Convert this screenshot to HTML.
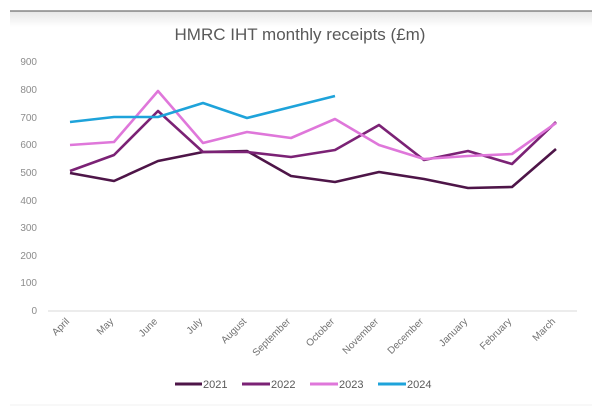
<!DOCTYPE html>
<html><head><meta charset="utf-8"><style>
body{margin:0;background:#fff;width:600px;height:415px;overflow:hidden;font-family:"Liberation Sans",sans-serif}
</style></head><body>
<svg width="600" height="415" xmlns="http://www.w3.org/2000/svg" font-family="Liberation Sans, sans-serif">
<defs><linearGradient id="g" x1="0" y1="0" x2="0" y2="1"><stop offset="0" stop-color="#e6e6e6"/><stop offset="1" stop-color="#fff"/></linearGradient></defs>
<rect x="10" y="11" width="582" height="16" fill="url(#g)"/>
<line x1="10" y1="11" x2="592" y2="11" stroke="#707070" stroke-width="1.2"/>
<line x1="10" y1="405" x2="592" y2="405" stroke="#f0f0f0" stroke-width="1"/>
<text x="300" y="40" text-anchor="middle" font-size="17" fill="#595959">HMRC IHT monthly receipts (£m)</text>
<g font-size="10" fill="#8c8c8c" text-anchor="end">
<text x="37" y="314">0</text><text x="37" y="286">100</text><text x="37" y="259">200</text><text x="37" y="231">300</text><text x="37" y="204">400</text><text x="37" y="176">500</text><text x="37" y="148">600</text><text x="37" y="121">700</text><text x="37" y="93">800</text><text x="37" y="65">900</text>
</g>
<line x1="48" y1="311" x2="577" y2="311" stroke="#d9d9d9" stroke-width="1"/>
<g font-size="10" fill="#707070" text-anchor="end">
<text transform="translate(70,322) rotate(-45)">April</text>
<text transform="translate(114,322) rotate(-45)">May</text>
<text transform="translate(158,322) rotate(-45)">June</text>
<text transform="translate(203,322) rotate(-45)">July</text>
<text transform="translate(247,322) rotate(-45)">August</text>
<text transform="translate(291,322) rotate(-45)">September</text>
<text transform="translate(335,322) rotate(-45)">October</text>
<text transform="translate(379,322) rotate(-45)">November</text>
<text transform="translate(424,322) rotate(-45)">December</text>
<text transform="translate(468,322) rotate(-45)">January</text>
<text transform="translate(512,322) rotate(-45)">February</text>
<text transform="translate(556,322) rotate(-45)">March</text>
</g>
<g fill="none" stroke-width="2.6" stroke-linejoin="round">
<polyline stroke="#4e1548" points="70,173 114,181 158,161 203,152 247,151 291,176 335,182 379,172 424,179 468,188 512,187 556,149"/>
<polyline stroke="#7b2275" points="70,171 114,155 158,111 203,152 247,152 291,157 335,150 379,125 424,160 468,151 512,164 556,122"/>
<polyline stroke="#df77da" points="70,145 114,142 158,91 203,143 247,132 291,138 335,119 379,145 424,159 468,156 512,154 556,123"/>
<polyline stroke="#1ea3da" points="70,122 114,117 158,117 203,103 247,118 291,107 335,96"/>
</g>
<g font-size="11" fill="#595959">
<line x1="175" y1="384" x2="202" y2="384" stroke="#4e1548" stroke-width="3"/><text x="203" y="388">2021</text>
<line x1="242" y1="384" x2="270" y2="384" stroke="#7b2275" stroke-width="3"/><text x="271" y="388">2022</text>
<line x1="310" y1="384" x2="338" y2="384" stroke="#df77da" stroke-width="3"/><text x="339" y="388">2023</text>
<line x1="378" y1="384" x2="406" y2="384" stroke="#1ea3da" stroke-width="3"/><text x="407" y="388">2024</text>
</g>
</svg>
</body></html>
